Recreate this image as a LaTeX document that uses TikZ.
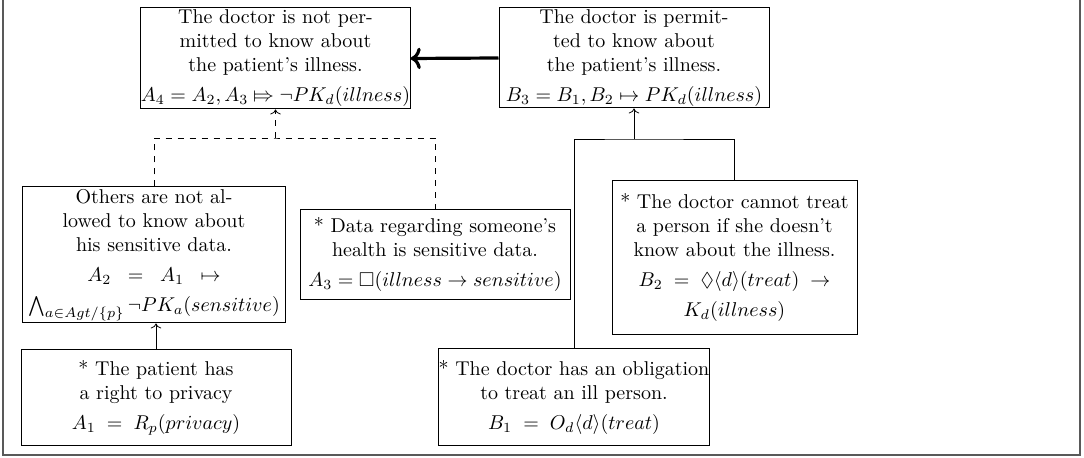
\documentclass[tikz,border=0pt]{standalone}
\usepackage{amsmath,amssymb}
\usepackage{stmaryrd}
\usetikzlibrary{arrows.meta}
\tikzset{
  box/.style={draw, align=center, inner sep=0pt, line width=0.5pt},
  conn/.style={line width=0.4pt},
  frame/.style={draw=gray!70!black, line width=0.8pt}
}
\begin{document}
\begin{tikzpicture}[x=0.5pt, y=-0.5pt]
\useasboundingbox (0,0) rectangle (1084,458);
\draw[frame] (3,0) -- (3,455) -- (1080,455) -- (1080,0);

\node[box, minimum width=269*0.5pt, minimum height=101*0.5pt] (A4) at (275.5,58.5)
  {The doctor is not per-\\mitted to know about\\the patient's illness.\\[3pt]
   $A_4 = A_2, A_3 \Mapsto \neg PK_d(illness)$};
\node[box, minimum width=270*0.5pt, minimum height=100*0.5pt] (B3) at (634,58)
  {The doctor is permit-\\ted to know about\\the patient's illness.\\[3pt]
   $B_3 = B_1, B_2 \mapsto PK_d(illness)$};
\node[box, minimum width=263*0.5pt, minimum height=136*0.5pt] (A2) at (154,255)
  {Others are not al-\\lowed to know about\\his sensitive data.\\[3pt]
   $A_2 \;\;=\;\; A_1 \;\;\mapsto$\\[3pt]
   $\bigwedge_{a\in Agt/\{p\}} \neg PK_a(sensitive)$};
\node[box, minimum width=270*0.5pt, minimum height=90*0.5pt] (A3) at (435,255)
  {* Data regarding someone's\\health is sensitive data.\\[3pt]
   $A_3 = \Box(illness \rightarrow sensitive)$};
\node[box, minimum width=245*0.5pt, minimum height=154*0.5pt] (B2) at (734.5,258)
  {* The doctor cannot treat\\a person if she doesn't\\know about the illness.\\[3pt]
   $B_2 \;=\; \Diamond\langle d\rangle(treat) \;\rightarrow$\\[3pt]
   $K_d(illness)$};
\node[box, minimum width=270*0.5pt, minimum height=96*0.5pt] (A1) at (156,398)
  {* The patient has\\a right to privacy\\[3pt]
   $A_1 \;=\; R_p(privacy)$};
\node[box, minimum width=270*0.5pt, minimum height=97*0.5pt] (B1) at (574,397.5)
  {* The doctor has an obligation\\to treat an ill person.\\[3pt]
   $B_1 \;=\; O_d\langle d\rangle(treat)$};

\coordinate (jA) at (275.5,138);
\coordinate (jB) at (634,139);

\draw[conn, ->] (A1.north) -- (A1.north |- A2.south);
\draw[conn, dashed] (A2.north) |- (jA) -| (A3.north);
\draw[conn, dashed, ->] (jA) -- (A4.south);
\draw[conn] (B1.north) |- (jB) -| (B2.north);
\draw[conn, ->] (jB) -- (B3.south);
\draw[->, line width=1.6pt] (B3.west) -- (A4.east);
\end{tikzpicture}
\end{document}
